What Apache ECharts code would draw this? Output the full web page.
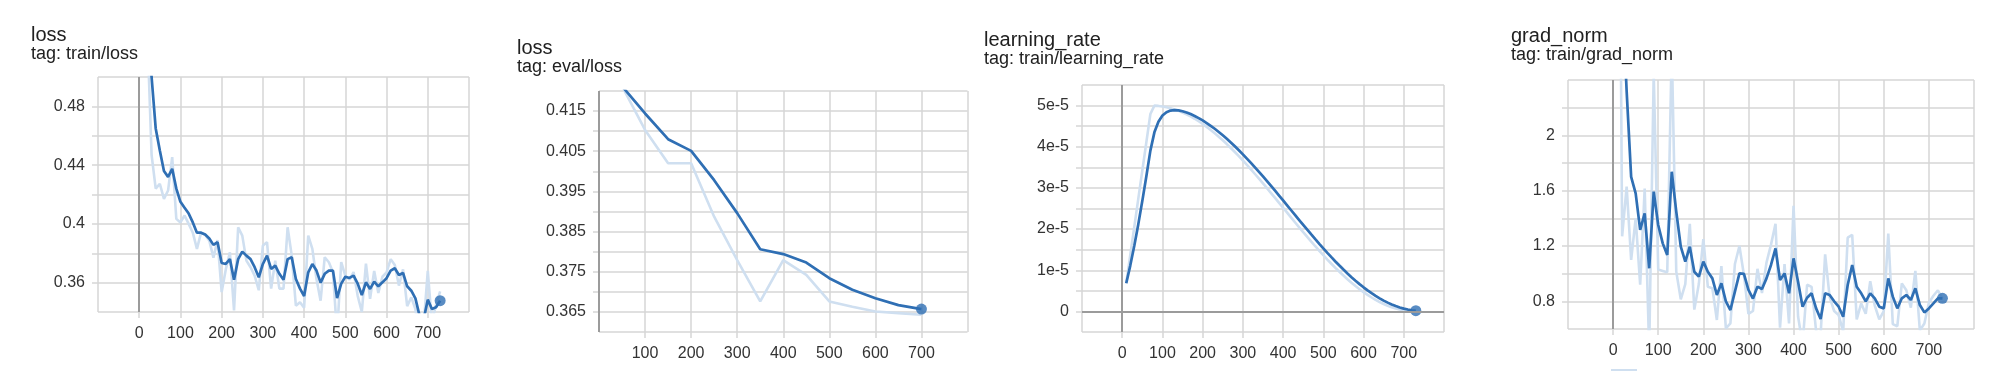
<!DOCTYPE html>
<html>
<head>
<meta charset="utf-8">
<script src="https://cdn.jsdelivr.net/npm/echarts@6/dist/echarts.min.js"></script>
<style>
html,body{margin:0;padding:0;background:#fff;}
#c{width:2012px;height:388px;}
</style>
</head>
<body>
<div id="c"></div>
<script>
// ---------- data ----------
const trainSteps = [10,20,30,40,50,60,70,80,90,100,110,120,130,140,150,160,170,180,190,200,
  210,220,230,240,250,260,270,280,290,300,310,320,330,340,350,360,370,380,390,400,
  410,420,430,440,450,460,470,480,490,500,510,520,530,540,550,560,570,580,590,600,
  610,620,630,640,650,660,670,680,690,700,710,720,730];

const trainLossRaw = [0.600,0.528,0.447,0.424,0.4273,0.417,0.4227,0.4455,0.4034,0.401,
  0.4057,0.400,0.394,0.383,0.394,0.3925,0.3886,0.377,0.389,0.3536,
  0.369,0.3807,0.341,0.3977,0.392,0.375,0.3705,0.3648,0.3548,0.3852,
  0.3875,0.3559,0.375,0.3559,0.3559,0.3977,0.3784,0.3443,0.3466,0.343,
  0.392,0.383,0.3625,0.3477,0.3773,0.3739,0.367,0.325,0.374,0.3648,
  0.362,0.3672,0.351,0.340,0.373,0.349,0.368,0.353,0.364,0.367,
  0.376,0.372,0.358,0.369,0.344,0.350,0.342,0.320,0.331,0.368,
  0.333,0.345,0.354];
const trainLossSmooth = [0.600,0.555,0.500,0.465,0.450,0.436,0.432,0.4375,0.424,0.415,
  0.411,0.407,0.401,0.394,0.394,0.3927,0.390,0.3857,0.3875,0.3734,
  0.3727,0.376,0.362,0.376,0.3811,0.3784,0.376,0.3705,0.3636,0.3727,
  0.3784,0.3693,0.3716,0.366,0.362,0.376,0.3773,0.3625,0.3559,0.3509,
  0.367,0.3727,0.3682,0.360,0.366,0.3682,0.3682,0.3495,0.3593,0.364,
  0.3632,0.3648,0.3593,0.3516,0.3602,0.3557,0.3607,0.3575,0.3602,0.363,
  0.3682,0.3698,0.3652,0.3666,0.3575,0.3545,0.3493,0.3375,0.335,0.3484,
  0.342,0.3432,0.3477];

const evalSteps = [50,100,150,200,250,300,350,400,450,500,550,600,650,700];
const evalLossRaw = [0.4212,0.4103,0.402,0.402,0.3887,0.3779,0.3676,0.3779,0.3742,0.3676,0.3663,0.3651,0.3647,0.3643];
const evalLossSmooth = [0.4212,0.4144,0.408,0.4051,0.3978,0.3896,0.3806,0.3794,0.3773,0.3734,0.3705,0.3684,0.3667,0.3657];

const lrRaw = [0.6849e-5,1.3699e-5,2.0548e-5,2.7397e-5,3.4247e-5,4.1096e-5,4.7945e-5,4.9986e-5,4.9918e-5,4.9792e-5,
  4.9610e-5,4.9371e-5,4.9077e-5,4.8728e-5,4.8325e-5,4.7868e-5,4.7359e-5,4.6799e-5,4.6189e-5,4.5531e-5,
  4.4825e-5,4.4074e-5,4.3280e-5,4.2444e-5,4.1568e-5,4.0654e-5,3.9705e-5,3.8722e-5,3.7707e-5,3.6663e-5,
  3.5593e-5,3.4498e-5,3.3382e-5,3.2247e-5,3.1095e-5,2.9929e-5,2.8752e-5,2.7566e-5,2.6374e-5,2.5179e-5,
  2.3984e-5,2.2791e-5,2.1603e-5,2.0423e-5,1.9254e-5,1.8097e-5,1.6957e-5,1.5835e-5,1.4733e-5,1.3656e-5,
  1.2604e-5,1.1580e-5,1.0587e-5,0.9641e-5,0.8713e-5,0.7823e-5,0.6973e-5,0.6164e-5,0.5399e-5,0.4678e-5,
  0.4005e-5,0.3380e-5,0.2804e-5,0.2280e-5,0.1807e-5,0.1388e-5,0.1022e-5,0.0711e-5,0.0456e-5,0.0257e-5,
  0.0114e-5,0.00285e-5,0];
const lrSmooth = [0.6849e-5,1.1130e-5,1.5935e-5,2.1203e-5,2.6860e-5,3.2833e-5,3.9052e-5,4.3500e-5,4.6094e-5,4.7582e-5,
  4.8396e-5,4.8787e-5,4.8903e-5,4.8833e-5,4.8630e-5,4.8325e-5,4.7939e-5,4.7483e-5,4.6965e-5,4.6391e-5,
  4.5764e-5,4.5088e-5,4.4365e-5,4.3596e-5,4.2785e-5,4.1933e-5,4.1042e-5,4.0114e-5,3.9151e-5,3.8156e-5,
  3.7131e-5,3.6078e-5,3.4999e-5,3.3898e-5,3.2777e-5,3.1638e-5,3.0484e-5,2.9317e-5,2.8140e-5,2.6955e-5,
  2.5767e-5,2.4577e-5,2.3387e-5,2.2202e-5,2.1023e-5,1.9852e-5,1.8694e-5,1.7551e-5,1.6424e-5,1.5317e-5,
  1.4232e-5,1.3171e-5,1.2137e-5,1.1139e-5,1.0169e-5,0.9230e-5,0.8327e-5,0.7462e-5,0.6637e-5,0.5853e-5,
  0.5114e-5,0.4420e-5,0.3774e-5,0.3176e-5,0.2629e-5,0.2132e-5,0.1688e-5,0.1297e-5,0.0961e-5,0.0679e-5,
  0.0453e-5,0.0283e-5,0.0170e-5];

const gradNormRaw = [6.0,1.27,1.63,1.10,1.40,0.92,1.615,0.44,2.45,1.03,
  1.02,1.01,2.64,1.015,0.815,0.925,1.36,0.74,0.925,1.25,
  0.905,0.895,0.665,1.055,0.605,0.64,1.07,1.2,0.99,0.71,
  0.73,1.035,0.86,1.08,1.21,1.36,0.61,1.07,0.64,1.49,
  0.69,0.49,0.92,0.905,0.585,0.56,1.14,0.83,0.73,0.70,
  0.58,1.26,1.28,0.67,0.785,0.71,0.945,0.77,0.67,0.73,
  1.29,0.635,0.62,0.93,0.88,0.755,1.02,0.59,0.64,0.79,
  0.84,0.88,0.82];
const gradNormSmooth = [6.0,3.04,2.32,1.70,1.58,1.316,1.436,1.039,1.593,1.352,
  1.219,1.135,1.737,1.448,1.195,1.087,1.195,1.014,0.978,1.087,
  1.014,0.966,0.846,0.930,0.80,0.737,0.87,1.002,0.998,0.882,
  0.82,0.906,0.889,0.966,1.063,1.183,0.954,1.002,0.858,1.111,
  0.942,0.761,0.826,0.858,0.749,0.672,0.858,0.846,0.80,0.761,
  0.689,0.918,1.063,0.906,0.858,0.80,0.858,0.822,0.761,0.749,
  0.966,0.834,0.749,0.822,0.846,0.81,0.894,0.773,0.72,0.749,
  0.785,0.822,0.822];

const panelTitles = ['loss','loss','learning_rate','grad_norm'];
const panelTags = ['tag: train/loss','tag: eval/loss','tag: train/learning_rate','tag: train/grad_norm'];

// ---------- styling ----------
const FONT = '"Liberation Sans", Arial, Helvetica, sans-serif';
const DARK = '#2f6fb4';
const LIGHT = '#cfdff0';
const GRIDC = '#d6d6d6';
const ZEROC = '#9b9b9b';

function pairs(xs, ys){ return xs.map((x,i)=>[x, ys[i]]); }

function xAxis(gi, min){
  return {type:'value', gridIndex:gi, min:min, max:800, interval:100,
    axisLine:{show:false, onZero:false},
    axisTick:{show:true, length:6, lineStyle:{color:GRIDC, width:1.5}},
    axisLabel:{showMinLabel:false, showMaxLabel:false, margin:14, color:'#333', fontSize:16, fontFamily:FONT},
    splitLine:{show:true, lineStyle:{color:GRIDC, width:1.5}}};
}
function yAxis(gi, min, max, interval, fmt){
  return {type:'value', gridIndex:gi, min:min, max:max, interval:interval,
    axisLine:{show:false, onZero:false},
    axisTick:{show:true, length:6, lineStyle:{color:GRIDC, width:1.5}},
    axisLabel:{showMinLabel:false, showMaxLabel:false, margin:13, color:'#333', fontSize:16, fontFamily:FONT, formatter:fmt},
    splitLine:{show:true, lineStyle:{color:GRIDC, width:1.5}}};
}
function zeroMark(extra){
  const data = [{xAxis:0}];
  if (extra) data.push({yAxis:0});
  return {silent:true, symbol:['none','none'], label:{show:false},
    lineStyle:{color:ZEROC, width:2, type:'solid'}, emphasis:{disabled:true}, animation:false, data:data};
}
function panelSeries(gi, xs, raw, smooth, yZero){
  const last = xs.length-1;
  return [
    {type:'line', xAxisIndex:gi, yAxisIndex:gi, data:pairs(xs, raw), symbol:'none', z:2,
      lineStyle:{color:LIGHT, width:2.6}, itemStyle:{color:LIGHT}, markLine:zeroMark(yZero), silent:true},
    {type:'line', xAxisIndex:gi, yAxisIndex:gi, data:pairs(xs, smooth), symbol:'none', z:3,
      lineStyle:{color:DARK, width:2.7}, itemStyle:{color:DARK}, silent:true},
    {type:'scatter', xAxisIndex:gi, yAxisIndex:gi, data:[[xs[last], smooth[last]]], symbolSize:11, z:4,
      itemStyle:{color:DARK}, silent:true}
  ];
}

const fmtTrainLoss = v => (Math.round(v*100) % 4 === 0) ? String(parseFloat(v.toFixed(2))) : '';
const fmtEval = v => (Math.round(v*1000) % 10 === 5) ? String(parseFloat(v.toFixed(3))) : '';
const fmtLr = v => { const k = Math.round(v*1e6); if (k % 10 !== 0) return ''; return k === 0 ? '0' : (k/10) + 'e-5'; };
const fmtGrad = v => { const k = Math.round(v*10); return ((k - 8) % 4 === 0) ? String(parseFloat(v.toFixed(1))) : ''; };

const titlePos = [[31,25],[517,38],[984,30],[1511,26]];

const option = {
  animation:false,
  backgroundColor:'#ffffff',
  title: panelTitles.map((t,i)=>({
    text:t, subtext:panelTags[i], left:titlePos[i][0], top:titlePos[i][1], padding:0, itemGap:0,
    textStyle:{fontSize:20, color:'#212121', fontWeight:'normal', fontFamily:FONT},
    subtextStyle:{fontSize:18, color:'#212121', fontFamily:FONT}
  })),
  grid:[
    {left:98, top:77, width:371, height:235},
    {left:599, top:91, width:368.5, height:241},
    {left:1082, top:85, width:362, height:247},
    {left:1568, top:80, width:406, height:249}
  ],
  xAxis:[ xAxis(0,-100), xAxis(1,0), xAxis(2,-100), xAxis(3,-100) ],
  yAxis:[
    yAxis(0, 0.34, 0.50, 0.02, fmtTrainLoss),
    yAxis(1, 0.36, 0.42, 0.005, fmtEval),
    yAxis(2, -0.5e-5, 5.5e-5, 0.5e-5, fmtLr),
    yAxis(3, 0.6, 2.4, 0.2, fmtGrad)
  ],
  series:[].concat(
    panelSeries(0, trainSteps, trainLossRaw, trainLossSmooth, false),
    panelSeries(1, evalSteps, evalLossRaw, evalLossSmooth, false),
    panelSeries(2, trainSteps, lrRaw, lrSmooth, true),
    panelSeries(3, trainSteps, gradNormRaw, gradNormSmooth, false)
  ),
  graphic:[
    {type:'rect', shape:{x:1611, y:369, width:26, height:2}, style:{fill:LIGHT}, silent:true}
  ]
};

const chart = echarts.init(document.getElementById('c'), null, {renderer:'canvas'});
chart.setOption(option);
</script>
</body>
</html>
